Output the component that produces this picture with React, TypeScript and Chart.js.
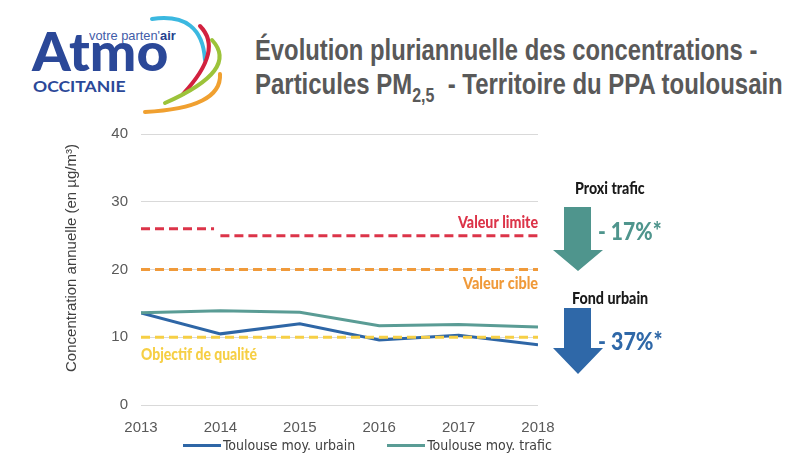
import React, { useEffect, useLayoutEffect, useRef, useState } from "react";
import { Chart, registerables } from "chart.js";

Chart.register(...registerables);

// ---- Data ----
const years = [2013, 2014, 2015, 2016, 2017, 2018];
const urbainValues = [13.6, 10.5, 12.0, 9.6, 10.3, 8.9];
const traficValues = [13.6, 13.9, 13.7, 11.7, 11.9, 11.5];

const limiteOldYears = [2013, 2013.92];
const limiteOldValues = [26, 26];
const limiteNewYears = [2014, 2018];
const limiteNewValues = [25, 25];
const cibleYears = [2013, 2018];
const cibleValues = [20, 20];
const objectifYears = [2013, 2018];
const objectifValues = [10, 10];

const thresholdLabels = ["Valeur limite", "Valeur cible", "Objectif de qualité"];
const seriesLabels = ["Toulouse moy. urbain", "Toulouse moy. trafic"];
const yTicks = [0, 10, 20, 30, 40];
const yTitle = "Concentration annuelle (en µg/m³)";

const reductionTitles = ["Proxi trafic", "Fond urbain"];
const reductionValues = ["- 17%*", "- 37%*"];

// ---- Styles ----
const SANS = "'Liberation Sans', Arial, sans-serif";
const COND = "'DejaVu Sans Condensed', 'Liberation Sans', sans-serif";
const LATO = "Lato, 'Liberation Sans', sans-serif";
const BLUE = "#2e66a6";
const TEAL = "#5a9c95";
const RED = "#dc3449";
const ORANGE = "#f09a3a";
const YELLOW = "#f6cf45";
const GRAY_TEXT = "#595959";

const toPts = (xs: number[], ys: number[]) => xs.map((x, i) => ({ x, y: ys[i] }));

const labelPlugin = {
  id: "thresholdLabels",
  afterDatasetsDraw(chart: any) {
    const { ctx, scales } = chart;
    const x = scales.x;
    const y = scales.y;
    ctx.save();
    ctx.font = `900 17px ${LATO}`;
    ctx.textBaseline = "alphabetic";
    ctx.textAlign = "right";
    ctx.fillStyle = RED;
    ctx.fillText(thresholdLabels[0], x.getPixelForValue(2018), y.getPixelForValue(limiteNewValues[1]) - 8, 80);
    ctx.fillStyle = ORANGE;
    ctx.fillText(thresholdLabels[1], x.getPixelForValue(2018), y.getPixelForValue(cibleValues[1]) + 19, 75);
    ctx.textAlign = "left";
    ctx.fillStyle = YELLOW;
    ctx.fillText(thresholdLabels[2], x.getPixelForValue(2013), y.getPixelForValue(objectifValues[0]) + 23, 116);
    // y axis title
    ctx.translate(72, 258);
    ctx.rotate(-Math.PI / 2);
    ctx.textAlign = "center";
    ctx.textBaseline = "middle";
    ctx.font = `15px ${SANS}`;
    ctx.fillStyle = "#404040";
    ctx.fillText(yTitle, 0, 0, 237);
    ctx.restore();
  },
};

function LineChart() {
  const ref = useRef<HTMLCanvasElement>(null);
  useEffect(() => {
    if (!ref.current) return;
    const dash = [9, 5];
    const chart = new Chart(ref.current, {
      type: "line",
      data: {
        datasets: [
          { label: "objectif", data: toPts(objectifYears, objectifValues), borderColor: YELLOW, borderWidth: 3, borderDash: dash, pointRadius: 0, order: 1 },
          { label: "cible", data: toPts(cibleYears, cibleValues), borderColor: ORANGE, borderWidth: 3, borderDash: dash, pointRadius: 0, order: 1 },
          { label: "limite ancienne", data: toPts(limiteOldYears, limiteOldValues), borderColor: RED, borderWidth: 3, borderDash: dash, pointRadius: 0, order: 1 },
          { label: "limite", data: toPts(limiteNewYears, limiteNewValues), borderColor: RED, borderWidth: 3, borderDash: dash, pointRadius: 0, order: 1 },
          { label: seriesLabels[1], data: toPts(years, traficValues), borderColor: TEAL, borderWidth: 3, pointRadius: 0, tension: 0, order: 2 },
          { label: seriesLabels[0], data: toPts(years, urbainValues), borderColor: BLUE, borderWidth: 3, pointRadius: 0, tension: 0, order: 2 },
        ],
      },
      options: {
        animation: false,
        responsive: true,
        maintainAspectRatio: false,
        layout: { padding: { left: 60, top: 134, right: 250, bottom: 0 } },
        plugins: { legend: { display: false }, tooltip: { enabled: false } },
        scales: {
          x: {
            type: "linear",
            min: years[0],
            max: years[years.length - 1],
            afterFit: (s: any) => {
              s.height = 50;
            },
            afterBuildTicks: (s: any) => {
              s.ticks = years.map((v) => ({ value: v }));
            },
            ticks: {
              callback: (v: any) => String(v),
              color: GRAY_TEXT,
              font: { family: SANS, size: 15 },
              padding: 6,
              maxRotation: 0,
            },
            grid: { display: false },
            border: { display: false },
          },
          y: {
            min: yTicks[0],
            max: yTicks[yTicks.length - 1],
            afterFit: (s: any) => {
              s.width = 81;
            },
            afterBuildTicks: (s: any) => {
              s.ticks = yTicks.map((v) => ({ value: v }));
            },
            ticks: {
              color: GRAY_TEXT,
              font: { family: SANS, size: 15 },
              padding: 13,
            },
            grid: { color: "#d9d9d9", drawTicks: false, lineWidth: 1 },
            border: { display: false },
          },
        },
      },
      plugins: [labelPlugin],
    });
    return () => chart.destroy();
  }, []);
  return <canvas ref={ref} />;
}

// Text that is condensed horizontally to a given width
function Fit({
  width,
  left,
  top,
  style,
  children,
}: {
  width: number;
  left: number;
  top: number;
  style: React.CSSProperties;
  children: React.ReactNode;
}) {
  const ref = useRef<HTMLDivElement>(null);
  const [scale, setScale] = useState(1);
  useLayoutEffect(() => {
    if (ref.current) {
      const w = ref.current.offsetWidth;
      if (w > 0) setScale(width / w);
    }
  }, [width]);
  return (
    <div
      ref={ref}
      style={{
        position: "absolute",
        left,
        top,
        whiteSpace: "nowrap",
        transformOrigin: "0 0",
        transform: `scaleX(${scale})`,
        ...style,
      }}
    >
      {children}
    </div>
  );
}

function Logo() {
  return (
    <>
      <svg width={240} height={120} style={{ position: "absolute", left: 0, top: 0 }}>
        <path d="M 152 19 Q 202 12 205 60" stroke="#3bb8e0" strokeWidth={4} fill="none" strokeLinecap="round" />
        <path d="M 200 26 Q 224 50 183 94" stroke="#d2213f" strokeWidth={4} fill="none" strokeLinecap="round" />
        <path d="M 212 40 Q 240 70 165 103" stroke="#9cc33a" strokeWidth={4} fill="none" strokeLinecap="round" />
        <path d="M 220 74 Q 222 108 145 112" stroke="#f0a030" strokeWidth={4} fill="none" strokeLinecap="round" />
      </svg>
      <Fit width={87} left={89} top={29} style={{ font: `13px ${SANS}`, color: "#3f5ca8", lineHeight: "13px" }}>
        votre parten'<b style={{ color: "#24408e" }}>air</b>
      </Fit>
      <Fit width={136} left={32} top={24} style={{ font: `900 54px ${LATO}`, color: "#2b4898", lineHeight: "54px" }}>
        Atmo
      </Fit>
      <Fit width={92} left={33} top={78} style={{ font: `bold 16px ${LATO}`, color: "#2b4898", lineHeight: "16px" }}>
        OCCITANIE
      </Fit>
    </>
  );
}

function Arrow({ top, headStart, tip, color }: { top: number; headStart: number; tip: number; color: string }) {
  const sl = 564, sr = 591, hl = 553, hr = 603, cx = 578;
  return (
    <polygon
      points={`${sl},${top} ${sr},${top} ${sr},${headStart} ${hr},${headStart} ${cx},${tip} ${hl},${headStart} ${sl},${headStart}`}
      fill={color}
    />
  );
}

export default function App() {
  useEffect(() => {
    document.body.style.margin = "0";
  }, []);
  const titleStyle: React.CSSProperties = { font: `bold 30px ${SANS}`, color: "#595959", lineHeight: "30px" };
  return (
    <div style={{ position: "relative", width: 788, height: 455, background: "#fff", overflow: "hidden" }}>
      <Logo />
      <Fit width={502} left={255} top={35} style={titleStyle}>
        Évolution pluriannuelle des concentrations -
      </Fit>
      <Fit width={528} left={255} top={69} style={titleStyle}>
        Particules PM
        <span style={{ fontSize: 20, position: "relative", top: 8 }}>2,5</span>
        {"\u00a0 - Territoire du PPA toulousain"}
      </Fit>
      <div style={{ position: "absolute", left: 0, top: 0, width: 788, height: 455 }}>
        <LineChart />
      </div>
      <svg width={788} height={455} style={{ position: "absolute", left: 0, top: 0, pointerEvents: "none" }}>
        <Arrow top={207} headStart={250} tip={271} color="#4f958d" />
        <Arrow top={308} headStart={348} tip={374} color="#2f68a8" />
      </svg>
      <Fit width={70} left={575} top={180} style={{ font: `900 16px ${LATO}`, color: "#1a1a1a", lineHeight: "16px" }}>
        {reductionTitles[0]}
      </Fit>
      <Fit width={64} left={598} top={218} style={{ font: `900 25px ${LATO}`, color: "#4f958d", lineHeight: "25px" }}>
        {reductionValues[0]}
      </Fit>
      <Fit width={76} left={572} top={290} style={{ font: `900 16px ${LATO}`, color: "#1a1a1a", lineHeight: "16px" }}>
        {reductionTitles[1]}
      </Fit>
      <Fit width={65} left={598} top={328} style={{ font: `900 25px ${LATO}`, color: "#2f68a8", lineHeight: "25px" }}>
        {reductionValues[1]}
      </Fit>
      <div
        style={{
          position: "absolute",
          left: 183,
          top: 437,
          display: "flex",
          alignItems: "center",
          font: `14px ${COND}`,
          color: "#404040",
          whiteSpace: "nowrap",
          lineHeight: "16px",
        }}
      >
        <span style={{ display: "inline-block", width: 38, height: 3, background: BLUE, marginRight: 2 }} />
        <span style={{ marginRight: 32 }}>{seriesLabels[0]}</span>
        <span style={{ display: "inline-block", width: 38, height: 3, background: TEAL, marginRight: 2 }} />
        <span>{seriesLabels[1]}</span>
      </div>
    </div>
  );
}
